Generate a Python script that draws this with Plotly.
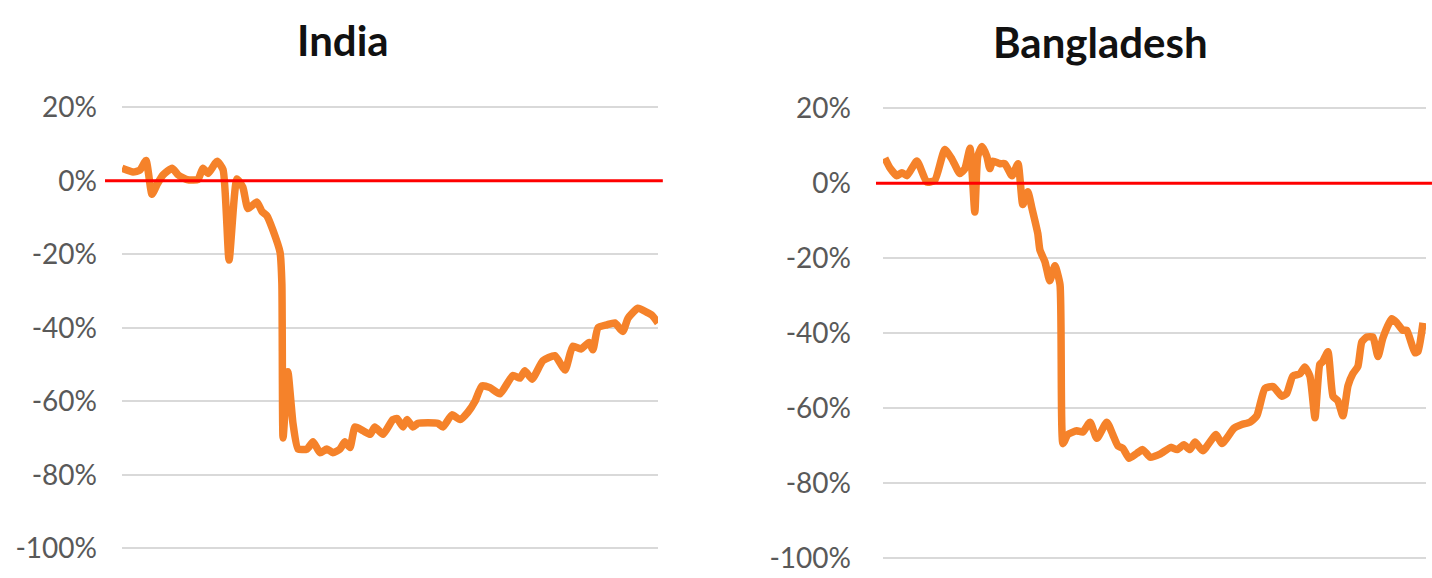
import plotly.graph_objects as go

# ---- data (day index, % change) ----
india_day = [0, 3.7, 6, 8, 10, 11.7, 13.7, 16.7, 18.7, 21.7, 25.3, 27, 28.7, 31.7, 33.7,
             35.7, 38.3, 40.3, 42, 45, 46.7, 48.3, 50.3, 52.7, 53.3, 53.7, 55.3, 57, 58.7,
             61.7, 63.7, 66, 68.3, 70.3, 72.7, 74.3, 76, 77.7, 80.3, 82.7, 84.3, 87, 90.3,
             91.7, 93.7, 95, 97, 98.7, 105.3, 107, 110, 112.7, 115.3, 117.7, 120, 122.7,
             126, 130.3, 132.7, 134.3, 136.7, 140.3, 144.3, 147.7, 150.3, 153, 155.7, 157,
             158.7, 161.7, 164.3, 167, 168.7, 172, 175, 176.7, 178.7]
india_val = [3.4, 2.4, 2.9, 5.5, -3.7, -1, 1.6, 3.4, 1.6, 0.3, 0.3, 3.4, 2, 5.3, 3.0,
             -21.6, 0.5, -1.8, -7.6, -5.8, -8.4, -9.5, -13.4, -19.5, -28, -70, -52, -66, -73,
             -73, -71, -74, -73, -74, -73, -71, -72.6, -67, -68, -69, -67, -69, -65,
             -64.7, -67, -65, -67, -66, -66, -67, -63.7, -65, -63, -60, -55.8, -56.3,
             -58, -53, -53.7, -51.7, -54, -49, -47.6, -51.5, -45, -45.8, -44, -46,
             -40, -39.2, -38.7, -41, -37.4, -34.7, -35.8, -36.6, -38.7]

bang_day = [0.3, 2, 4.3, 6, 7.7, 11, 14.3, 17, 20.3, 22.7, 25.3, 27, 28.7, 30.3, 31.3,
            32.7, 34.3, 35.3, 36.3, 38.7, 40.3, 42.7, 44.7, 46.3, 48, 49.3, 51.3, 52,
            53.7, 55.3, 57, 58.7, 59.7, 61.3, 64.3, 66.3, 68.7, 71, 74.3, 76.3, 78, 79.7,
            81.7, 84.3, 86.3, 88.7, 92, 95.7, 97.7, 100, 102, 103.7, 106.3, 110.7, 112.7,
            116.7, 119.3, 122, 124.3, 127, 129.7, 132.7, 134.3, 136.3, 138.7, 140.3, 142,
            143.7, 145.3, 146.3, 148, 149.7, 151.3, 153, 154.7, 156.3, 158, 159.3, 161,
            163, 164.7, 166.3, 169.3, 171, 173, 174.3, 177, 178, 179.7]
bang_val = [6.7, 4.1, 2, 2.8, 2, 5.9, 0.3, 0.8, 9, 6.4, 2.6, 3.9, 9.3, -7.7, 7.2,
            9.8, 7.2, 3.9, 5.9, 5.2, 5.2, 2, 5.2, -5.7, -2.3, -6.5, -13.4, -17.8,
            -21, -26, -22, -27, -69.4, -67, -66, -66.3, -63.7, -68, -63.7, -67, -70, -70.7,
            -73.3, -72, -71, -73, -72.2, -70.4, -71, -69.7, -71, -69, -71.3, -67, -69.4,
            -65.3, -64.3, -63.7, -62, -54.7, -54.2, -56.8, -56, -51.4, -50.8, -49, -51.4,
            -62.5, -48.3, -47.5, -44.9, -56.8, -58, -62, -54, -50.8, -48.8, -42.3, -41,
            -41, -46.2, -41.3, -36.1, -37.2, -39.2, -39.2, -45.2, -44.9, -37.2]

tick_vals = [20, 0, -20, -40, -60, -80, -100]
tick_text = ["20%", "0%", "-20%", "-40%", "-60%", "-80%", "-100%"]
titles = ["India", "Bangladesh"]

ORANGE = "#F5822A"
GRID = "#D9D9D9"
LABEL = "#595959"

fig = go.Figure()
fig.add_trace(go.Scatter(x=india_day, y=india_val, mode="lines",
                         line=dict(color=ORANGE, width=7.5, shape="spline", smoothing=0.5),
                         xaxis="x", yaxis="y", showlegend=False, hoverinfo="skip"))
fig.add_trace(go.Scatter(x=bang_day, y=bang_val, mode="lines",
                         line=dict(color=ORANGE, width=7.5, shape="spline", smoothing=0.5),
                         xaxis="x2", yaxis="y2", showlegend=False, hoverinfo="skip"))

yax_common = dict(tickvals=tick_vals, ticktext=tick_text,
                  showgrid=True, gridcolor=GRID, gridwidth=2, zeroline=False,
                  showline=False, ticks="", ticklabeloverflow="allow",
                  tickfont=dict(family="Lato", size=28, color=LABEL))
xax_common = dict(showgrid=False, zeroline=False, showline=False,
                  showticklabels=False, ticks="")

H = 578.0
fig.update_layout(
    width=1432, height=578,
    margin=dict(l=0, r=0, t=0, b=0),
    paper_bgcolor="white", plot_bgcolor="white",
    xaxis=dict(domain=[122/1432, 658/1432], range=[0, 178.7], anchor="y", **xax_common),
    # India: 20% at y=99.5px, -100% at y=555.5px (from top)
    yaxis=dict(domain=[1 - 563.1/H, 1 - 91.9/H], range=[-102, 22], anchor="x",
               ticklabelstandoff=24, **yax_common),
    xaxis2=dict(domain=[883/1432, 1426/1432], range=[-0.3, 180.7], anchor="y2", **xax_common),
    # Bangladesh: 20% at y=100.5px, -100% at y=566px
    yaxis2=dict(domain=[1 - 573.8/H, 1 - 92.7/H], range=[-102, 22], anchor="x2",
                ticklabelstandoff=31, **yax_common),
    shapes=[
        dict(type="line", xref="x domain", yref="y", x0=-0.0317, x1=1.009, y0=0, y1=0,
             line=dict(color="#FF0000", width=3), layer="above"),
        dict(type="line", xref="x2 domain", yref="y2", x0=-0.0129, x1=1.011, y0=0, y1=0,
             line=dict(color="#FF0000", width=3), layer="above"),
    ],
    annotations=[
        dict(text=titles[0], x=343/1432, y=1 - 29.8/H, xref="paper", yref="paper",
             showarrow=False, xanchor="center", yanchor="middle",
             font=dict(family="Lato", size=42, color="#111111", weight="bold")),
        dict(text=titles[1], x=1100/1432, y=1 - 32.3/H, xref="paper", yref="paper",
             showarrow=False, xanchor="center", yanchor="middle",
             font=dict(family="Lato", size=42, color="#111111", weight="bold")),
    ],
)

post = ("document.body.style.margin='0';document.body.style.padding='0';"
        "document.documentElement.style.overflow='hidden';"
        "document.body.style.overflow='hidden';")

fig.write_html("out.html", post_script=post, config={"displayModeBar": False})
